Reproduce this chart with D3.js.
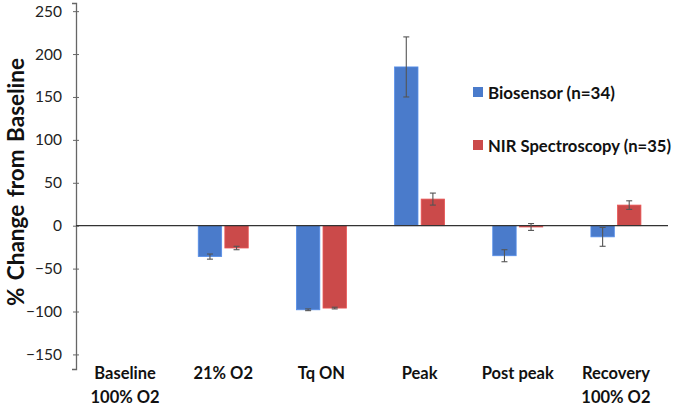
<!DOCTYPE html>
<html>
<head>
<meta charset="utf-8">
<script src="https://cdn.jsdelivr.net/npm/d3@7"></script>
<style>
  body { margin: 0; background: #fff; }
  svg { display: block; }
  text { font-family: Lato, "Open Sans", sans-serif; }
</style>
</head>
<body>
<svg id="chart" width="675" height="408"></svg>
<script>
const categories = [["Baseline", "100% O2"], ["21% O2"], ["Tq ON"], ["Peak"], ["Post peak"], ["Recovery", "100% O2"]];
const seriesNames = ["Biosensor (n=34)", "NIR Spectroscopy (n=35)"];
const biosensor = [0, -36, -98, 185, -35, -13];
const biosensorErr = [0, 3, 1, 35, 7, 11];
const nirs = [0, -26, -96, 31, -1.5, 24];
const nirsErr = [0, 2, 1, 7, 4, 5];
const yTicks = [250, 200, 150, 100, 50, 0, -50, -100, -150];
const colors = ["#4a7bcb", "#cb4a4a"];

const svg = d3.select("#chart");
const x0 = d3.scaleBand().domain(d3.range(categories.length)).range([76, 665]);
const y = d3.scaleLinear().domain([-167, 259.5]).range([369, 3]);
const x1 = d3.scaleBand().domain([0, 1]).range([-25, 25]).paddingInner(0.12);

// y axis
const yAxis = d3.axisLeft(y).tickValues(yTicks).tickSize(4).tickPadding(10).tickFormat(d3.format("d"));
const ga = svg.append("g").attr("transform", "translate(76,0)").call(yAxis);
ga.select(".domain").attr("stroke", "#666").attr("stroke-width", 1.3);
ga.selectAll(".tick line").attr("stroke", "#666").attr("x2", 3).attr("x1", -3);
ga.selectAll(".tick text").attr("font-size", 15.5).attr("fill", "#222").attr("font-family", "Lato, sans-serif");

// y title
svg.append("text")
  .attr("transform", "translate(15,182) rotate(-90)")
  .attr("text-anchor", "middle").attr("dominant-baseline", "central")
  .attr("font-size", 22.5).attr("font-weight", "bold").attr("fill", "#111")
  .attr("word-spacing", 2)
  .text("% Change from Baseline");

const series = [
  { vals: biosensor, errs: biosensorErr },
  { vals: nirs, errs: nirsErr }
];

series.forEach((s, si) => {
  const g = svg.append("g");
  g.selectAll("rect").data(s.vals.map((v, i) => ({ v, i })).filter(d => d.v !== 0))
    .join("rect")
    .attr("x", d => x0(d.i) + x0.bandwidth() / 2 + x1(si))
    .attr("width", x1.bandwidth())
    .attr("y", d => Math.min(y(d.v), y(0)))
    .attr("height", d => Math.abs(y(d.v) - y(0)))
    .attr("fill", colors[si])
    .attr("stroke", d3.color(colors[si]).brighter(0.4))
    .attr("stroke-width", 0.8);
});

// zero line
svg.append("line").attr("x1", 76).attr("x2", 668).attr("y1", y(0)).attr("y2", y(0))
  .attr("stroke", "#333").attr("stroke-width", 1.3);

// error bars
series.forEach((s, si) => {
  const g = svg.append("g").attr("stroke", "#555").attr("stroke-width", 1.1);
  s.vals.forEach((v, i) => {
    if (v === 0) return;
    const cx = x0(i) + x0.bandwidth() / 2 + x1(si) + x1.bandwidth() / 2;
    const e = s.errs[i];
    const yt = y(v + e), yb = y(v - e);
    g.append("line").attr("x1", cx).attr("x2", cx).attr("y1", yt).attr("y2", yb);
    g.append("line").attr("x1", cx - 3).attr("x2", cx + 3).attr("y1", yt).attr("y2", yt);
    g.append("line").attr("x1", cx - 3).attr("x2", cx + 3).attr("y1", yb).attr("y2", yb);
  });
});

// x labels
categories.forEach((lines, i) => {
  const t = svg.append("text")
    .attr("x", x0(i) + x0.bandwidth() / 2)
    .attr("y", 379)
    .attr("text-anchor", "middle")
    .attr("font-size", 16.5).attr("font-weight", "bold").attr("fill", "#111");
  lines.forEach((l, li) => {
    t.append("tspan").attr("x", x0(i) + x0.bandwidth() / 2).attr("dy", li === 0 ? 0 : 24).text(l);
  });
});

// legend
const legendWidths = [127, 183];
const leg = svg.append("g");
seriesNames.forEach((n, i) => {
  const ly = 92 + i * 53;
  leg.append("rect").attr("x", 473).attr("y", ly - 5).attr("width", 10).attr("height", 10).attr("fill", colors[i]);
  leg.append("text").attr("x", 488).attr("y", ly).attr("dominant-baseline", "central")
    .attr("font-size", 17).attr("font-weight", "bold").attr("fill", "#111")
    .attr("textLength", legendWidths[i]).attr("lengthAdjust", "spacingAndGlyphs").text(n);
});
</script>
</body>
</html>
